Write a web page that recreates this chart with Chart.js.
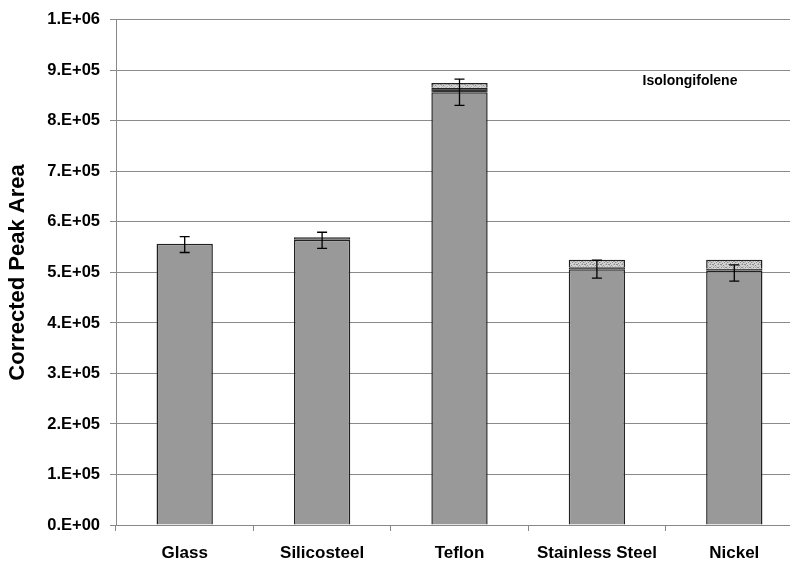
<!DOCTYPE html>
<html>
<head>
<meta charset="utf-8">
<script src="https://cdn.jsdelivr.net/npm/chart.js@4/dist/chart.umd.min.js"></script>
<style>
  html, body { margin: 0; padding: 0; background: #fff; overflow: hidden; }
  #wrap { width: 790px; height: 561px; overflow: hidden; }
  canvas { display: block; }
</style>
</head>
<body>
<div id="wrap"><canvas id="c" width="804" height="561"></canvas></div>
<script>
// Surfaces tested
const categories = ['Glass', 'Silicosteel', 'Teflon', 'Stainless Steel', 'Nickel'];

// Stacked components of the corrected peak area
const mainArea   = [556700, 564600, 856700, 506500, 503300];
const secondArea = [null,   5000,   9000,   4000,   4000];
const thirdArea  = [null,   null,   9300,   14600,  17800];

// Mean and standard deviation shown by the error bars
const errMean = [555300, 563600, 856700, 506500, 499000];
const errDev  = [15800,  16000,  26000,  17800,  16000];

// Y axis ticks
const yMin = 0, yMax = 1000000, yStep = 100000;

const FONT = '"Liberation Sans", Arial, Helvetica, sans-serif';

// mottled fill for the top component
function speckle() {
  const c = document.createElement('canvas');
  c.width = 8; c.height = 6;
  const g = c.getContext('2d');
  g.fillStyle = '#d2d2d2';
  g.fillRect(0, 0, 8, 6);
  g.fillStyle = '#8c8c8c';
  [[0,0],[1,0],[3,1],[6,0],[1,3],[5,3],[6,3],[7,4],[2,5],[4,4]].forEach(([x,y]) => g.fillRect(x, y, 1, 1));
  g.fillStyle = '#b0b0b0';
  [[1,1],[4,2],[7,2],[0,4],[3,3],[6,5],[2,2],[5,0]].forEach(([x,y]) => g.fillRect(x, y, 1, 1));
  return g.createPattern(c, 'repeat');
}

function sci(v) {
  if (Math.abs(v) < 1e-9) return '0.E+00';
  const e = Math.floor(Math.log10(v) + 1e-9);
  const m = Math.round(v / Math.pow(10, e));
  return m + '.E+' + String(e).padStart(2, '0');
}

const errorBars = {
  id: 'errorBars',
  afterDatasetsDraw(chart) {
    const { ctx, scales: { x, y } } = chart;
    ctx.save();
    ctx.strokeStyle = '#000';
    ctx.lineWidth = 1.3;
    errMean.forEach((m, i) => {
      const px = x.getPixelForValue(i);
      const top = y.getPixelForValue(m + errDev[i]);
      const bot = y.getPixelForValue(m - errDev[i]);
      ctx.beginPath();
      ctx.moveTo(px, top); ctx.lineTo(px, bot);
      ctx.moveTo(px - 5, top); ctx.lineTo(px + 5, top);
      ctx.moveTo(px - 5, bot); ctx.lineTo(px + 5, bot);
      ctx.stroke();
    });
    ctx.restore();
  }
};

const compoundLabel = {
  id: 'compoundLabel',
  afterDraw(chart) {
    const { ctx, chartArea } = chart;
    ctx.save();
    ctx.font = 'bold 14px ' + FONT;
    ctx.fillStyle = '#000';
    ctx.textAlign = 'center';
    ctx.textBaseline = 'middle';
    ctx.fillText('Isolongifolene', chartArea.left + 574, chartArea.top + 61);
    ctx.restore();
  }
};

const barCommon = {
  borderColor: '#222',
  borderWidth: 1.5,
  borderSkipped: 'start',
  barPercentage: 0.41,
  categoryPercentage: 1.0
};

new Chart(document.getElementById('c'), {
  type: 'bar',
  data: {
    labels: categories,
    datasets: [
      Object.assign({ label: 'main', data: mainArea, backgroundColor: '#999999' }, barCommon),
      Object.assign({ label: 'second', data: secondArea, backgroundColor: '#333333' }, barCommon),
      Object.assign({ label: 'third', data: thirdArea, backgroundColor: speckle() }, barCommon)
    ]
  },
  options: {
    responsive: false,
    animation: false,
    devicePixelRatio: 1,
    layout: { padding: { top: 19, right: 1, bottom: 0, left: 0 } },
    plugins: { legend: { display: false }, tooltip: { enabled: false } },
    scales: {
      x: {
        stacked: true,
        afterFit(s) { s.height = 36; },
        grid: { offset: true, drawOnChartArea: false, tickLength: 6, color: '#888', lineWidth: 1 },
        border: { color: '#888', width: 1 },
        ticks: { color: '#000', padding: 12, font: { family: FONT, size: 17, weight: 'bold' } }
      },
      y: {
        stacked: true,
        min: yMin, max: yMax,
        afterFit(s) { s.width = 116; },
        grid: { color: '#8a8a8a', lineWidth: 1, tickLength: 6 },
        border: { color: '#888', width: 1 },
        ticks: {
          stepSize: yStep, color: '#000', padding: 10,
          font: { family: FONT, size: 16.5, weight: 'bold' },
          callback: v => sci(v)
        },
        title: {
          display: true, text: 'Corrected Peak Area', color: '#000',
          font: { family: FONT, size: 22, weight: 'bold' },
          padding: { top: 5, bottom: 0 }
        }
      }
    }
  },
  plugins: [errorBars, compoundLabel]
});
</script>
</body>
</html>
